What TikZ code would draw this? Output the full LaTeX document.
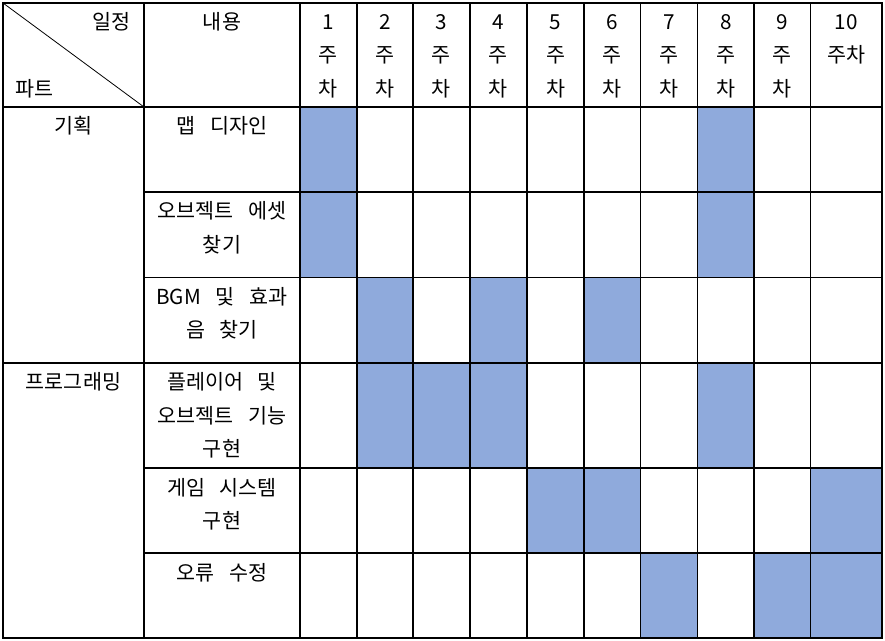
\documentclass[tikz,border=0pt]{standalone}
\usepackage{fontspec}
\setmainfont{Noto Sans CJK KR}
\definecolor{weekblue}{HTML}{8FAADC}
\tikzset{
  cell/.style={anchor=base, align=center, inner sep=0pt, text width=115pt,
    font=\fontsize{15.5}{25.1}\selectfont,
    execute at begin node={\spaceskip=0.72em\relax}},
  plan/.style={fill=weekblue},
  rule/.style={line width=0.8pt}
}
\begin{document}
\begin{tikzpicture}[x=0.75pt,y=-0.75pt]
\useasboundingbox (0,0) rectangle (885,641);
%\draw[step=10,gray,very thin] (0,0) grid (885,641);

% planned weeks
\fill[plan](300,107) rectangle (357,277.5);
\fill[plan](697.5,107) rectangle (754,277.5);
\fill[plan](357,277.5) rectangle (413,363);
\fill[plan](470,277.5) rectangle (527,363);
\fill[plan](584,277.5) rectangle (640.5,363);
\fill[plan](357,363) rectangle (527,468);
\fill[plan](697.5,363) rectangle (754,468);
\fill[plan](527,468) rectangle (640.5,553);
\fill[plan](810.5,468) rectangle (882,553);
\fill[plan](640.5,553) rectangle (697.5,638);
\fill[plan](754,553) rectangle (882,638);

% grid
\draw[rule](3,3) rectangle (882,638);
\draw[rule](3,107)--(882,107);
\draw[rule](144,192)--(882,192);
\draw[rule](144,277.5)--(882,277.5);
\draw[rule](3,363)--(882,363);
\draw[rule](144,468)--(882,468);
\draw[rule](144,553)--(882,553);

\draw[rule](144,3)--(144,638);
\draw[rule](300,3)--(300,638);
\draw[rule](357,3)--(357,638);
\draw[rule](413,3)--(413,638);
\draw[rule](470,3)--(470,638);
\draw[rule](527,3)--(527,638);
\draw[rule](584,3)--(584,638);
\draw[rule](640.5,3)--(640.5,638);
\draw[rule](697.5,3)--(697.5,638);
\draw[rule](754,3)--(754,638);
\draw[rule](810.5,3)--(810.5,638);

\draw[line width=0.6pt](3,3)--(144,107);

% header
\node[cell,anchor=base east,text width=] (schedule) at (131,29.5) {일정};
\node[cell,anchor=base west,text width=] (part) at (15,96.5) {파트};
\node[cell] (content) at (222,29.5) {내용};
\node[cell] (w1) at (328.5,29.5) {1\\주\\차};
\node[cell] (w2) at (385,29.5) {2\\주\\차};
\node[cell] (w3) at (441.5,29.5) {3\\주\\차};
\node[cell] (w4) at (498.5,29.5) {4\\주\\차};
\node[cell] (w5) at (555.5,29.5) {5\\주\\차};
\node[cell] (w6) at (612.25,29.5) {6\\주\\차};
\node[cell] (w7) at (669,29.5) {7\\주\\차};
\node[cell] (w8) at (725.75,29.5) {8\\주\\차};
\node[cell] (w9) at (782.25,29.5) {9\\주\\차};
\node[cell] (w10) at (846.25,29.5) {10\\주차};

% parts
\node[cell] (planning) at (73.5,134) {기획};
\node[cell] (programming) at (73.5,390) {프로그래밍};

% tasks
\node[cell] (mapdesign) at (222,134) {맵 디자인};
\node[cell] (assets) at (222,219) {오브젝트 에셋\\찾기};
\node[cell] (sound) at (222,304.5) {BGM 및 효과\\음 찾기};
\node[cell] (player) at (222,390) {플레이어 및\\오브젝트 기능\\구현};
\node[cell] (system) at (222,495) {게임 시스템\\구현};
\node[cell] (bugfix) at (222,580) {오류 수정};

\end{tikzpicture}
\end{document}
